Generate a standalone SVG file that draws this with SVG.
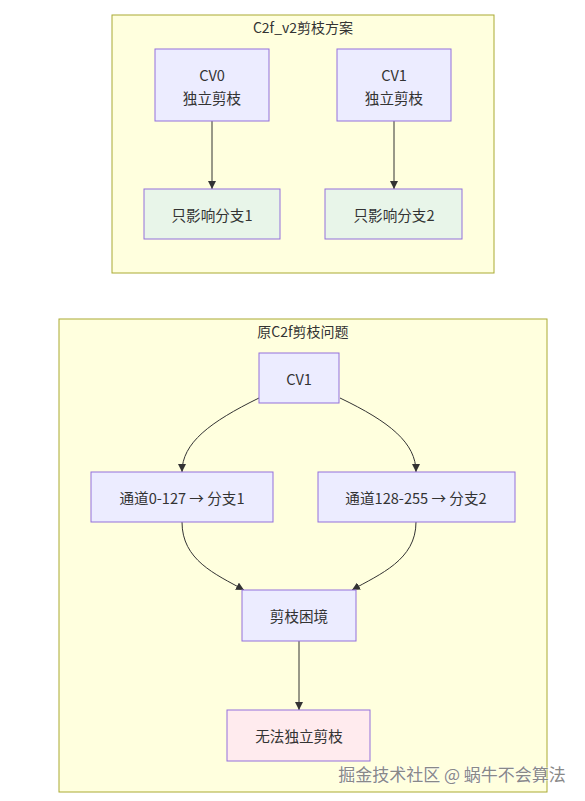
<svg xmlns="http://www.w3.org/2000/svg" width="585" height="801" viewBox="0 0 585 801">
<defs>
<style>
.cluster{fill:#ffffde;stroke:#aaaa33;stroke-width:1}
.node{fill:#ECECFF;stroke:#9370DB;stroke-width:1}
.green{fill:#e8f5e9;stroke:#9370DB;stroke-width:1}
.pink{fill:#ffebee;stroke:#9370DB;stroke-width:1}
text{font-family:"Noto Sans CJK SC","Liberation Sans",sans-serif;fill:#333;text-anchor:middle;dominant-baseline:central}
.t{font-size:14px}
.l{font-size:14.6px}
.edge{fill:none;stroke:#333;stroke-width:1}
.wm{font-size:17px;fill:#888;stroke:#fff;stroke-width:0.6;paint-order:stroke}
</style>
<marker id="arr" viewBox="0 0 10 10" refX="10" refY="5" markerWidth="8" markerHeight="8" orient="auto" markerUnits="userSpaceOnUse">
<path d="M0,0 L10,5 L0,10 z" fill="#333"/>
</marker>
</defs>
<rect width="585" height="801" fill="#ffffff"/>
<g id="cluster-v2">
<rect class="cluster" x="112" y="15" width="382" height="258"/>
<text class="t" x="303" y="27">C2f_v2剪枝方案</text>
</g>
<g id="cluster-orig">
<rect class="cluster" x="59" y="319" width="488" height="473"/>
<text class="t" x="303" y="331">原C2f剪枝问题</text>
</g>
<g id="edges">
<path class="edge" d="M212,121 L212,189" marker-end="url(#arr)"/>
<path class="edge" d="M394,121 L394,189" marker-end="url(#arr)"/>
<path class="edge" d="M259,398 C210,422 182,443 182,472" marker-end="url(#arr)"/>
<path class="edge" d="M340,398 C390,422 416,443 416,472" marker-end="url(#arr)"/>
<path class="edge" d="M182,522 C182,560 215,574 244,590" marker-end="url(#arr)"/>
<path class="edge" d="M416,522 C416,560 380,574 352,590" marker-end="url(#arr)"/>
<path class="edge" d="M299,641 L299,710" marker-end="url(#arr)"/>
</g>
<g id="CV0">
<rect class="node" x="155" y="49" width="114" height="72"/>
<text class="l" x="212" y="74">CV0</text>
<text class="l" x="212" y="97">独立剪枝</text>
</g>
<g id="CV1a">
<rect class="node" x="337" y="49" width="114" height="72"/>
<text class="l" x="394" y="74">CV1</text>
<text class="l" x="394" y="97">独立剪枝</text>
</g>
<g id="B1">
<rect class="green" x="144" y="189" width="136" height="50"/>
<text class="l" x="212" y="214">只影响分支1</text>
</g>
<g id="B2">
<rect class="green" x="325" y="189" width="137" height="50"/>
<text class="l" x="394" y="214">只影响分支2</text>
</g>
<g id="CV1b">
<rect class="node" x="259" y="353" width="80" height="50"/>
<text class="l" x="299" y="378">CV1</text>
</g>
<g id="C1">
<rect class="node" x="91" y="472" width="182" height="50"/>
<text class="l" x="182" y="497">通道0-127 → 分支1</text>
</g>
<g id="C2">
<rect class="node" x="318" y="472" width="197" height="50"/>
<text class="l" x="416" y="497">通道128-255 → 分支2</text>
</g>
<g id="D">
<rect class="node" x="242" y="590" width="114" height="51"/>
<text class="l" x="299" y="615">剪枝困境</text>
</g>
<g id="E">
<rect class="pink" x="227" y="710" width="143" height="51"/>
<text class="l" x="299" y="735">无法独立剪枝</text>
</g>
<text class="wm" x="452" y="773">掘金技术社区 @ 蜗牛不会算法</text>
</svg>
